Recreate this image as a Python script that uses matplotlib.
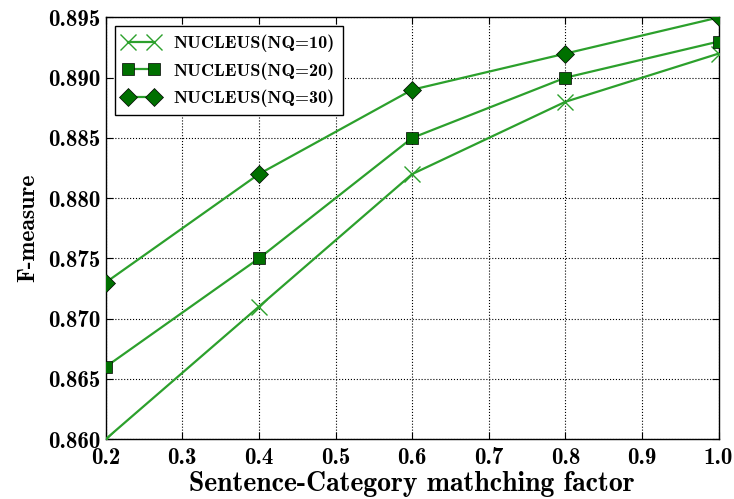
import matplotlib
matplotlib.use('Agg')
import matplotlib.pyplot as plt

plt.rcParams['font.family'] = ['cmb10', 'DejaVu Serif']
plt.rcParams['axes.unicode_minus'] = False

factor = [0.2, 0.4, 0.6, 0.8, 1.0]
nq10 = [0.860, 0.871, 0.882, 0.888, 0.892]
nq20 = [0.866, 0.875, 0.885, 0.890, 0.893]
nq30 = [0.873, 0.882, 0.889, 0.892, 0.895]
labels = ['NUCLEUS(NQ=10)', 'NUCLEUS(NQ=20)', 'NUCLEUS(NQ=30)']

line_col = '#2ca02c'
fill_col = '#007000'

fig = plt.figure(figsize=(7.34, 4.99), dpi=100)
ax = fig.add_axes([0.144, 0.12, 0.835, 0.845])

ax.plot(factor, nq10, color=line_col, lw=1.6, marker='x', ms=11, mew=1.0,
        mec=line_col, label=labels[0], zorder=3)
ax.plot(factor, nq20, color=line_col, lw=1.6, marker='s', ms=9, mfc=fill_col,
        mec='black', mew=0.5, label=labels[1], zorder=3)
ax.plot(factor, nq30, color=line_col, lw=1.6, marker='D', ms=9, mfc=fill_col,
        mec='black', mew=0.5, label=labels[2], zorder=3)

ax.set_xlim(0.2, 1.0)
ax.set_ylim(0.860, 0.895)
ax.set_xticks([0.2, 0.3, 0.4, 0.5, 0.6, 0.7, 0.8, 0.9, 1.0])
ax.set_yticks([0.860, 0.865, 0.870, 0.875, 0.880, 0.885, 0.890, 0.895])
ax.set_xticklabels(['%.1f' % v for v in ax.get_xticks()])
ax.set_yticklabels(['%.3f' % v for v in ax.get_yticks()])
ax.tick_params(labelsize=16.5, direction='in', length=5, top=True, right=True)
ax.tick_params(axis='x', pad=6)
ax.tick_params(axis='y', pad=4)
ax.grid(True, color='black', ls=':', lw=0.8)
ax.set_axisbelow(False)
for sp in ax.spines.values():
    sp.set_linewidth(1.0)

ax.set_xlabel('Sentence-Category mathching factor', fontsize=20, labelpad=1)
ax.set_ylabel('F-measure', fontsize=17, labelpad=6)

leg = ax.legend(loc='upper left', fontsize=13, fancybox=False, framealpha=1,
                edgecolor='black', borderpad=0.45, labelspacing=0.55,
                handlelength=2.0, numpoints=2, bbox_to_anchor=(0.0, 1.0))
leg.get_frame().set_linewidth(1.0)

fig.savefig('out.png', dpi=100)
